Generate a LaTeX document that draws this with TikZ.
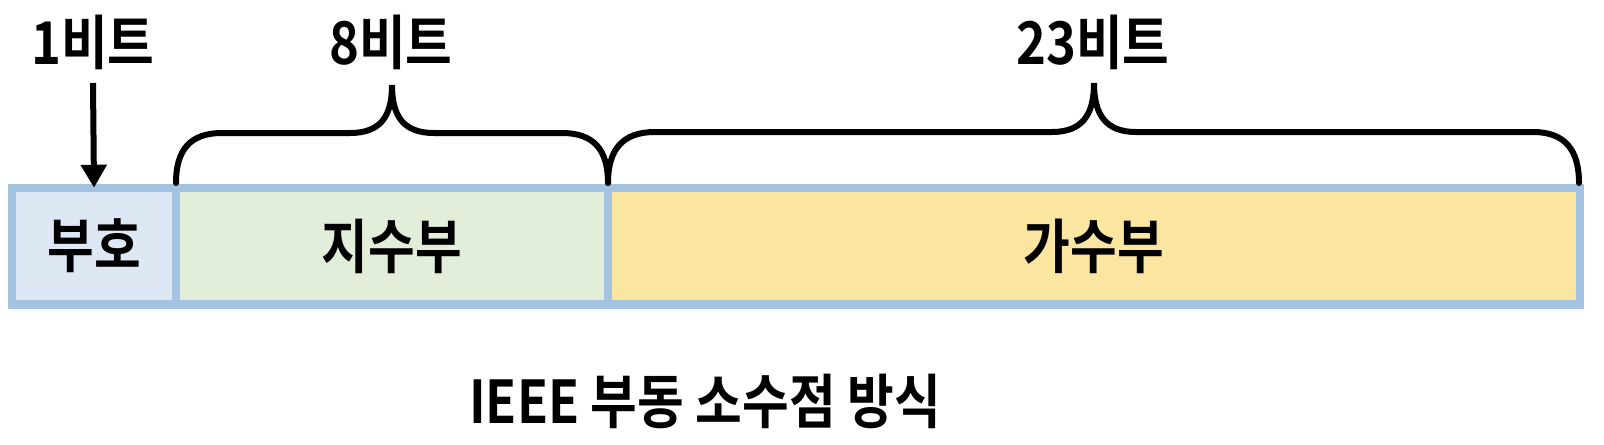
\documentclass[tikz,border=0pt]{standalone}
\usepackage{fontspec}
\newfontfamily\krfont{Noto Sans CJK KR Bold}[FakeStretch=0.86]
\usetikzlibrary{calc,arrows.meta}

\definecolor{cellborder}{RGB}{164,194,225}
\definecolor{signfill}{RGB}{222,232,245}
\definecolor{expfill}{RGB}{226,238,217}
\definecolor{mantfill}{RGB}{250,229,161}

\tikzset{
  cell/.style={rectangle, draw=cellborder, line width=4.25pt, minimum height=58.25pt, inner sep=0pt, outer sep=0pt},
  bracket/.style={line width=3pt, line cap=round},
  word/.style={inner sep=0pt, font=\krfont\fontsize{29.5pt}{33pt}\selectfont}
}

\begin{document}
\begin{tikzpicture}[x=0.5pt, y=-0.5pt]

\useasboundingbox (0,0) rectangle (1604,444);

\node[cell, word, fill=signfill, minimum width=82.25pt] (sign) at (94,246) {부호};

\node[cell, word, fill=expfill, minimum width=216pt] (exponent) at ($(sign) + (298,0)$) {지수부};

\node[cell, word, fill=mantfill, minimum width=486pt] (mantissa) at ($(exponent) + (702,0)$) {가수부};

\node[word] (bit1) at (93,42) {1비트};
\node[word] (bit8) at (391,42) {8비트};
\node[word] (bit23) at (1093,42) {23비트};

\node[word] (title) at (705,401) {IEEE 부동 소수점 방식};

\coordinate (arrowtop) at (93,83);
\draw[line width=3pt, -{Triangle[width=12.5pt, length=11.5pt]}] (arrowtop) -- (sign.north);

\draw[bracket] (176,183) .. controls (176,150) and (190,133) .. (222,133) -- (350,133)
  .. controls (380,133) and (392,117) .. (392,85)
  .. controls (392,117) and (404,133) .. (434,133) -- (562,133)
  .. controls (594,133) and (608,150) .. (608,183);

\draw[bracket] (608,183) .. controls (608,150) and (622,132) .. (655,132) -- (1052,132)
  .. controls (1082,132) and (1094,115) .. (1094,83)
  .. controls (1094,115) and (1106,132) .. (1136,132) -- (1533,132)
  .. controls (1565,132) and (1579,150) .. (1579,183);

\end{tikzpicture}
\end{document}
